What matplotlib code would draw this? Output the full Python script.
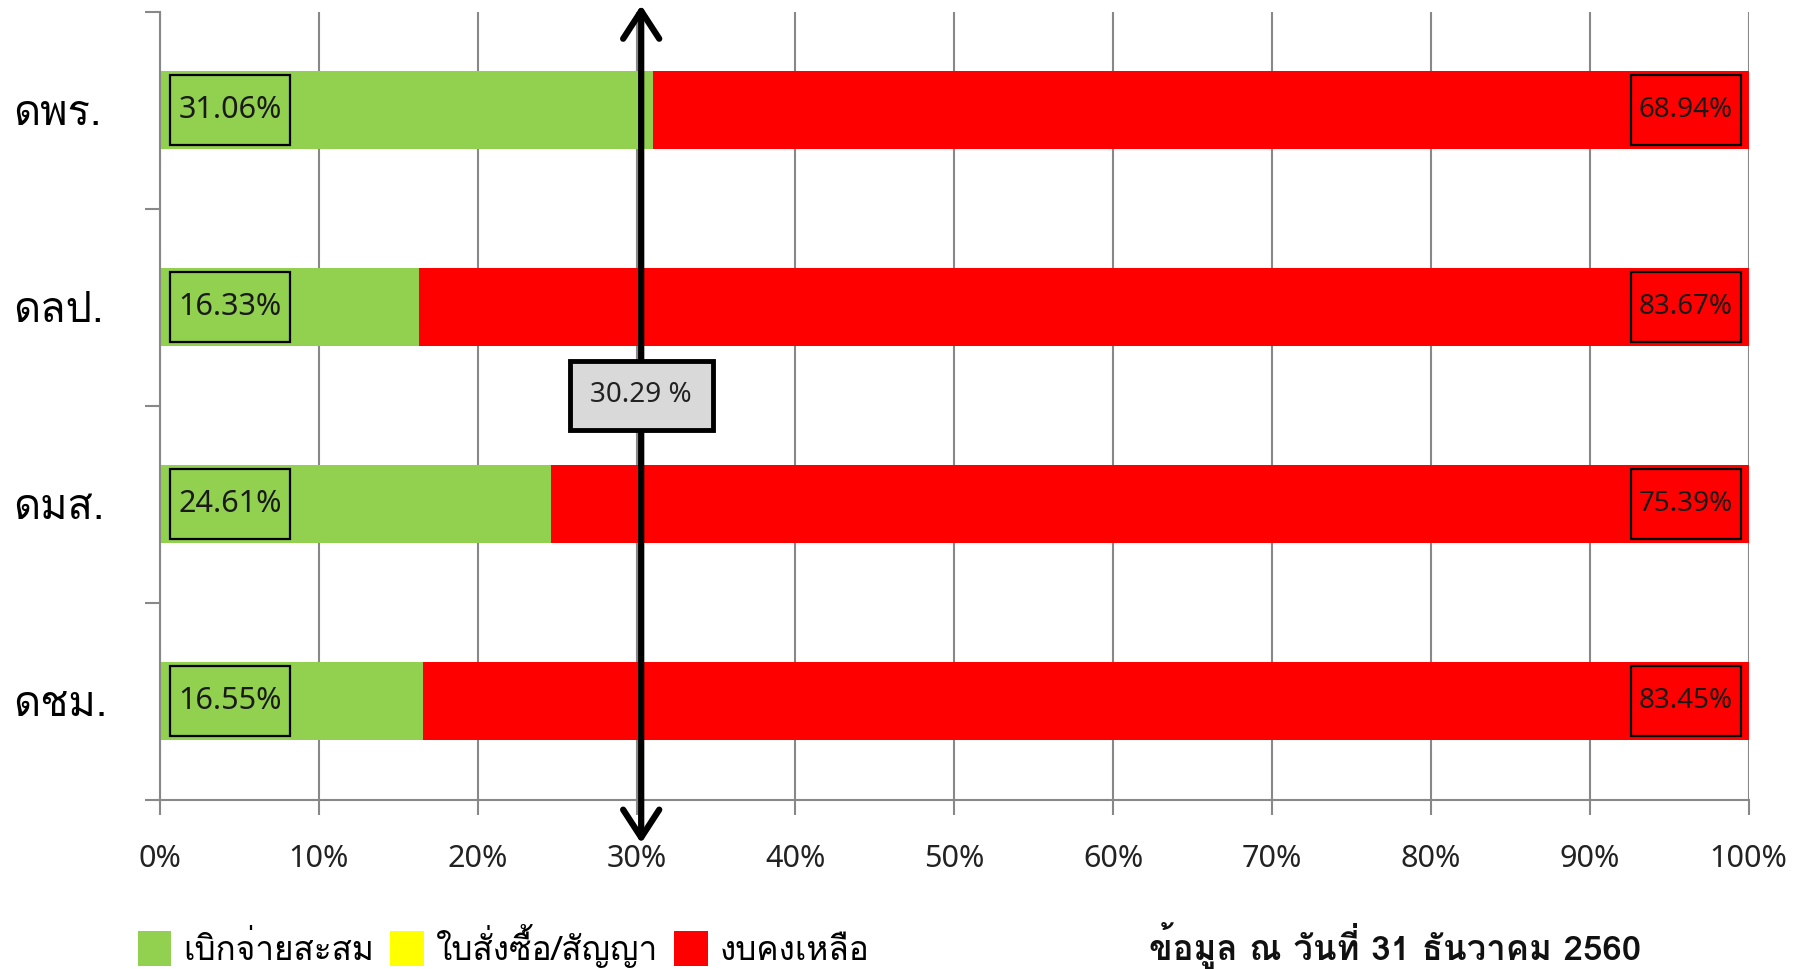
import matplotlib
matplotlib.use('Agg')
import matplotlib.pyplot as plt
from matplotlib import font_manager
from matplotlib.ft2font import FT2Font

# find an installed font that can draw Thai
thai = []
for f in font_manager.fontManager.ttflist:
    try:
        cmap = FT2Font(f.fname).get_charmap()
    except Exception:
        continue
    if 0x0E14 in cmap and 0x0E1E in cmap and f.name not in thai:
        thai.append(f.name)
pick = [n for n in ['Loma', 'Anuphan'] if n in thai] or thai[:1]
fams = pick[:1] + ['DejaVu Sans']
plt.rcParams['font.family'] = fams
num_font = ['Noto Sans', 'DejaVu Sans']

categories = ['ดพร.', 'ดลป.', 'ดมส.', 'ดชม.']
spent = [31.06, 16.33, 24.61, 16.55]
committed = [0, 0, 0, 0]
remaining = [68.94, 83.67, 75.39, 83.45]
legend_labels = ['เบิกจ่ายสะสม', 'ใบสั่งซื้อ/สัญญา', 'งบคงเหลือ']
average = 30.29
note = 'ข้อมูล ณ วันที่ 31 ธันวาคม 2560'

fig = plt.figure(figsize=(17.98, 9.69), dpi=100)
ax = fig.add_axes([0.089, 0.1746, 0.8835, 0.8135])

y = list(range(len(categories)))
h = 0.395
b1 = ax.barh(y, spent, height=h, color='#92d050', label=legend_labels[0])
b2 = ax.barh(y, committed, height=h, left=spent, color='#ffff00', label=legend_labels[1])
left3 = [a + b for a, b in zip(spent, committed)]
b3 = ax.barh(y, remaining, height=h, left=left3, color='#ff0000', label=legend_labels[2])

ax.set_xlim(0, 100)
ax.set_ylim(-0.5, len(categories) - 0.5)
ax.invert_yaxis()

ax.set_xticks(range(0, 101, 10))
ax.set_xticklabels([f'{v}%' for v in range(0, 101, 10)], fontsize=22, color='#222222',
                   family=num_font)
ax.set_yticks(y)
ax.set_yticklabels(categories, fontsize=30, ha='left')
ax.set_yticks([i - 0.5 for i in range(len(categories) + 1)], minor=True)
ax.tick_params(axis='y', which='major', length=0, pad=106)
ax.tick_params(axis='y', which='minor', length=11, color='#888888', width=1.5)
ax.tick_params(axis='x', length=11, color='#888888', width=1.5, pad=21)

ax.grid(axis='x', color='#888888', linewidth=1.5)
ax.set_axisbelow(True)
for s in ['top', 'right']:
    ax.spines[s].set_visible(False)
for s in ['left', 'bottom']:
    ax.spines[s].set_color('#888888')
    ax.spines[s].set_linewidth(1.5)

# outlined label boxes at both ends of each bar
ax.barh(y, 7.6, left=0.6, height=0.355, fill=False, edgecolor='black', linewidth=1.6)
ax.barh(y, 6.9, left=92.6, height=0.355, fill=False, edgecolor='black', linewidth=1.6)
for i in y:
    ax.text(4.4, i, f'{spent[i]:.2f}%', ha='center', va='center', fontsize=22,
            color='#1a1a1a', family=num_font)
    ax.text(96.05, i, f'{remaining[i]:.2f}%', ha='center', va='center', fontsize=20,
            color='#1a1a1a', family=num_font)

# average marker
ax.annotate('', xy=(average, -0.055), xycoords=('data', 'axes fraction'),
            xytext=(average, 1.008), textcoords=('data', 'axes fraction'),
            arrowprops=dict(arrowstyle='<->,head_length=1.0,head_width=0.65', color='black',
                            lw=4.5, mutation_scale=20, shrinkA=0, shrinkB=0),
            annotation_clip=False)
ax.text(average, 1.448, f'{average} %', ha='center', va='center', fontsize=20, color='#222222',
        family=num_font,
        bbox=dict(boxstyle='square,pad=0.75', facecolor='#d9d9d9', edgecolor='black', linewidth=3.5),
        zorder=5)

fig.legend(handles=[b1, b2, b3], labels=legend_labels, loc='center left',
           bbox_to_anchor=(0.06, 0.024), ncol=3, frameon=False, fontsize=24,
           handlelength=1.0, handleheight=1.2, columnspacing=0.5, handletextpad=0.35)
fig.text(0.639, 0.024, note, fontsize=25, fontweight='bold', color='#111111', va='center')

fig.savefig('out.png', dpi=100)
